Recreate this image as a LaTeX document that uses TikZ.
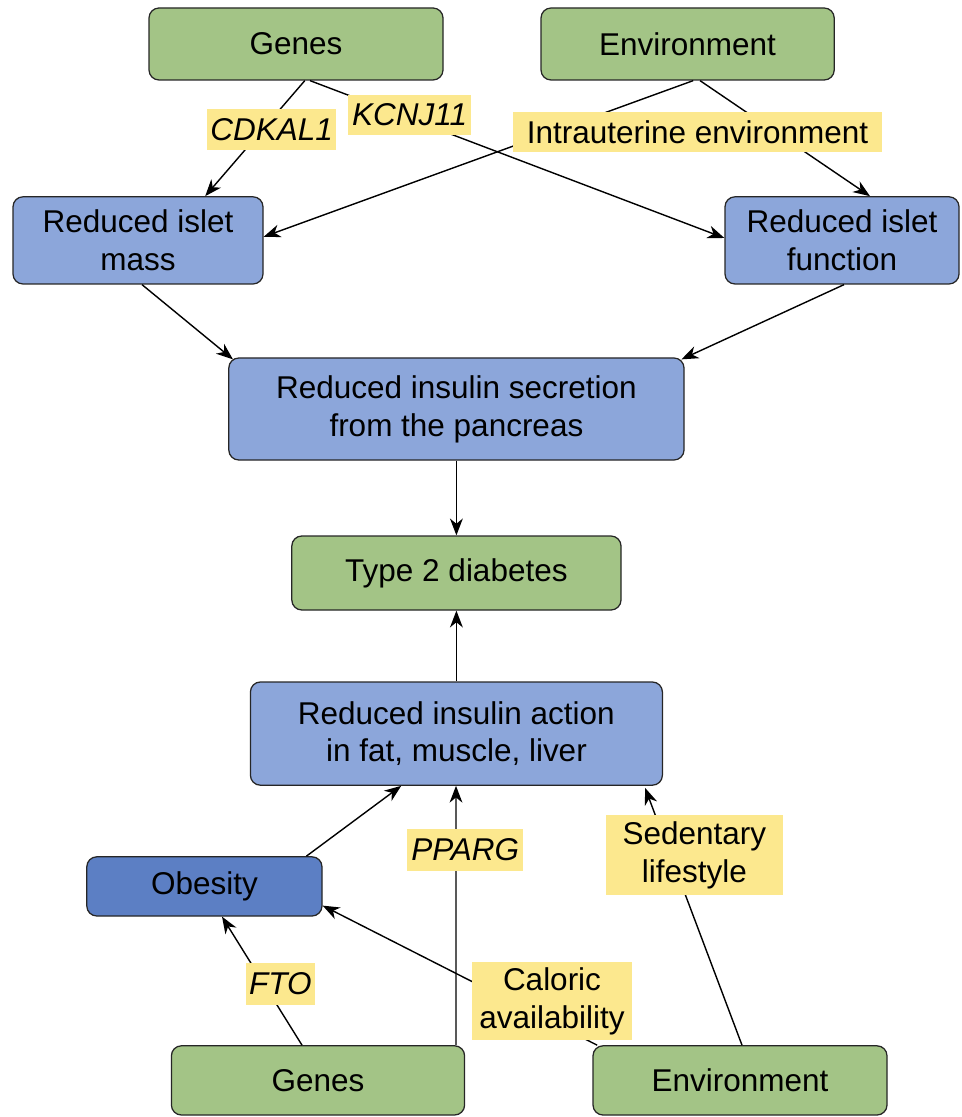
\documentclass[tikz,border=0pt]{standalone}
\usepackage{fontspec}
\setmainfont{Liberation Sans}
\usetikzlibrary{arrows.meta}
\definecolor{boxgreen}{RGB}{163,196,134}
\definecolor{boxblue}{RGB}{140,166,218}
\definecolor{obesblue}{RGB}{92,127,196}
\definecolor{tagyellow}{RGB}{252,232,142}

\begin{document}
\begin{tikzpicture}[
  box/.style={draw=black!85, line width=0.9pt, rounded corners=0.25cm,
              align=center, inner sep=2pt, font=\fontsize{22.4}{27}\selectfont},
  gbox/.style={box, fill=boxgreen},
  bbox/.style={box, fill=boxblue},
  tag/.style={fill=tagyellow, inner sep=2pt, align=center,
              font=\fontsize{22.4}{27}\selectfont},
  arr/.style={-{Stealth[length=0.42cm,width=0.32cm,inset=0.13cm]}, line width=1pt, draw=black}
]
  \useasboundingbox (0,0) rectangle (24.025,-27.925);

  % top half
  \node[gbox, minimum width=7.35cm, minimum height=1.8cm] (genesT) at (7.4,-1.1) {Genes};
  \node[gbox, minimum width=7.33cm, minimum height=1.8cm] (envT) at (17.19,-1.1) {Environment};
  \node[bbox, minimum width=6.25cm, minimum height=2.18cm] (mass) at (3.45,-6.01) {Reduced islet\\mass};
  \node[bbox, minimum width=5.85cm, minimum height=2.18cm] (func) at (21.05,-6.01) {Reduced islet\\function};
  \node[bbox, minimum width=11.38cm, minimum height=2.55cm] (secr) at (11.41,-10.225) {Reduced insulin secretion\\from the pancreas};
  \node[gbox, minimum width=8.23cm, minimum height=1.85cm] (t2d) at (11.41,-14.325) {Type 2 diabetes};

  % bottom half
  \node[bbox, minimum width=10.3cm, minimum height=2.58cm] (action) at (11.41,-18.34) {Reduced insulin action\\in fat, muscle, liver};
  \node[box, fill=obesblue, minimum width=5.88cm, minimum height=1.48cm] (obes) at (5.11,-22.16) {Obesity};
  \node[gbox, minimum width=7.33cm, minimum height=1.73cm] (genesB) at (7.95,-27.01) {Genes};
  \node[gbox, minimum width=7.35cm, minimum height=1.73cm] (envB) at (18.5,-27.01) {Environment};

  \draw[arr] ([xshift=0.22cm]genesT.south) -- ([xshift=1.68cm]mass.north);
  \draw[arr] ([xshift=0.35cm]genesT.south) -- ([yshift=0.06cm]func.west);
  \draw[arr] ([xshift=0.14cm]envT.south) -- ([yshift=0.09cm]mass.east);
  \draw[arr] ([xshift=0.31cm]envT.south) -- ([xshift=0.7cm]func.north);
  \draw[arr] ([xshift=0.1cm]mass.south) -- ([xshift=0.12cm,yshift=-0.05cm]secr.north west);
  \draw[arr] ([xshift=0.05cm]func.south) -- ([xshift=-0.08cm,yshift=-0.05cm]secr.north east);
  \draw[arr] (secr.south) -- (t2d.north);
  \draw[arr] (action.north) -- (t2d.south);
  \draw[arr] ([xshift=2.55cm]obes.north) -- ([xshift=-1.38cm]action.south);
  \draw[arr] ([xshift=3.45cm]genesB.north) -- ([xshift=-0.01cm]action.south);
  \draw[arr] ([xshift=-0.4cm]genesB.north) -- ([xshift=0.44cm]obes.south);
  \draw[arr] ([xshift=0.12cm]envB.north west) -- ([yshift=-0.48cm]obes.east);
  \draw[arr] ([xshift=0.05cm]envB.north) -- ([xshift=-0.45cm,yshift=-0.05cm]action.south east);

  % labels over the lines
  \node[tag, minimum width=3.23cm, minimum height=1.03cm] (cdkal) at (6.79,-3.24) {\itshape CDKAL1};
  \node[tag, minimum width=3.08cm, minimum height=1.0cm] (kcnj) at (10.24,-2.875) {\itshape KCNJ11};
  \node[tag, minimum width=9.23cm, minimum height=1.0cm] (intra) at (17.44,-3.3) {Intrauterine environment};
  \node[tag, minimum width=2.9cm, minimum height=1.05cm] (pparg) at (11.63,-21.25) {\itshape PPARG};
  \node[tag, minimum width=4.43cm, minimum height=2.0cm] (sed) at (17.36,-21.375) {Sedentary\\lifestyle};
  \node[tag, minimum width=1.73cm, minimum height=1.05cm] (fto) at (7.01,-24.6) {\itshape FTO};
  \node[tag, minimum width=3.98cm, minimum height=1.95cm] (cal) at (13.8,-25.03) {Caloric\\availability};
\end{tikzpicture}
\end{document}
